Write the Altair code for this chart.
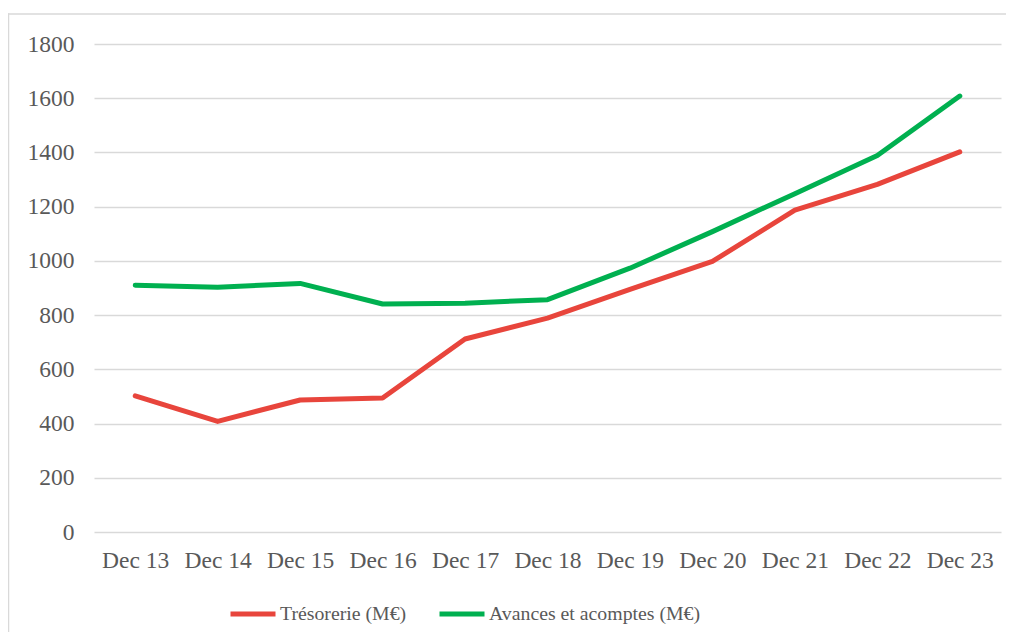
import altair as alt
import pandas as pd

categories = ["Dec 13", "Dec 14", "Dec 15", "Dec 16", "Dec 17", "Dec 18",
              "Dec 19", "Dec 20", "Dec 21", "Dec 22", "Dec 23"]
tresorerie = [502, 408, 487, 494, 712, 789, 895, 998, 1187, 1282, 1402]
avances = [910, 903, 917, 841, 844, 857, 973, 1108, 1248, 1389, 1608]
series_names = ["Trésorerie (M€)", "Avances et acomptes (M€)"]
series_colors = ["#E8453C", "#00B050"]
y_ticks = [0, 200, 400, 600, 800, 1000, 1200, 1400, 1600, 1800]

rows = []
for name, vals in zip(series_names, [tresorerie, avances]):
    for c, v in zip(categories, vals):
        rows.append({"date": c, "value": v, "serie": name})
df = pd.DataFrame(rows)

FONT = "Liberation Serif"
TXT = "#595959"
W, H = 907, 488

dummy = pd.DataFrame({"a": [0]})
frame_top = alt.Chart(dummy).mark_rect(fill="#d9d9d9", strokeWidth=0).encode(
    x=alt.value(-86.25), x2=alt.value(W + 30),
    y=alt.value(-30.75), y2=alt.value(-29.25)
)
frame_left = alt.Chart(dummy).mark_rect(fill="#d9d9d9", strokeWidth=0).encode(
    x=alt.value(-86.25), x2=alt.value(-84.75),
    y=alt.value(-30.75), y2=alt.value(H + 120)
)

lines = alt.Chart(df).mark_line(
    strokeWidth=5, strokeCap="round", strokeJoin="round"
).encode(
    x=alt.X("date:N", sort=categories, title=None,
            scale=alt.Scale(type="point", padding=0.5),
            axis=alt.Axis(labelAngle=0, ticks=False, domain=False, grid=False,
                          labelFont=FONT, labelFontSize=23.5, labelColor=TXT,
                          labelPadding=16)),
    y=alt.Y("value:Q", title=None,
            scale=alt.Scale(domain=[0, 1800], nice=False),
            axis=alt.Axis(values=y_ticks, ticks=False, domain=False, grid=True,
                          format="d",
                          gridColor="#d9d9d9", gridWidth=1.5,
                          labelFont=FONT, labelFontSize=23.5, labelColor=TXT,
                          labelPadding=20)),
    color=alt.Color("serie:N", sort=series_names,
                    scale=alt.Scale(domain=series_names, range=series_colors),
                    legend=alt.Legend(title=None, orient="none", direction="horizontal",
                                      legendX=134, legendY=545,
                                      symbolType="stroke", symbolSize=2025,
                                      symbolStrokeWidth=5,
                                      labelFont=FONT, labelFontSize=19.8,
                                      labelColor=TXT, labelOffset=2,
                                      labelLimit=0,
                                      columnPadding=22)),
)

chart = alt.layer(frame_top, frame_left, lines).properties(
    width=W, height=H,
    background="white",
    autosize=alt.AutoSizeParams(type="none"),
    padding={"left": 86, "top": 36, "right": 5, "bottom": 100},
).configure_view(stroke=None)

chart.save("out.html", embed_options={"renderer": "svg", "actions": False})
